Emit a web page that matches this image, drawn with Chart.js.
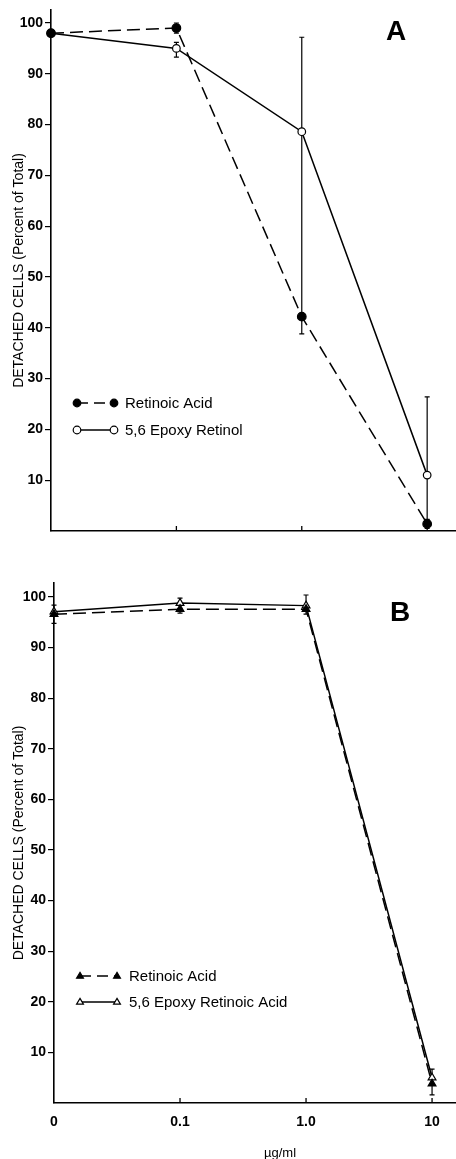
<!DOCTYPE html>
<html>
<head>
<meta charset="utf-8">
<script src="https://cdn.jsdelivr.net/npm/chart.js@4.4.1/dist/chart.umd.min.js"></script>
<style>
html, body { margin: 0; padding: 0; background: #fff; }
#wrap { position: relative; width: 456px; height: 1159px; overflow: hidden; background: #fff; }
canvas { position: absolute; left: 0; }
#cA { top: 0; }
#cB { top: 560px; }
.panel { position: absolute; font-family: 'Liberation Sans', Arial, sans-serif; font-weight: bold; font-size: 28px; line-height: 1; color: #000; }
#unit { position: absolute; left: 280px; top: 1152px; transform: translate(-50%, -50%); font-family: 'Liberation Sans', Arial, sans-serif; font-size: 13px; line-height: 1; color: #000; }
</style>
</head>
<body>
<div id="wrap">
  <canvas id="cA" width="456" height="545"></canvas>
  <canvas id="cB" width="456" height="599"></canvas>
  <div class="panel" style="left:386px; top:17px;">A</div>
  <div class="panel" style="left:390px; top:598px;">B</div>
  <div id="unit">µg/ml</div>
</div>
<script>
// ---- data ----
const xLabels = ['0', '0.1', '1.0', '10'];
const xIndex = [0, 1, 2, 3];
const yTitle = 'DETACHED CELLS (Percent of Total)';

const namesA = ['Retinoic Acid', '5,6 Epoxy Retinol'];
const retinoicA = [98.0, 99.0, 42.2, 1.4];
const epoxyRetinolA = [98.0, 95.0, 78.6, 11.0];
const retinoicAErr = [null, [98.0, 100.0], [38.8, 42.2], [0.5, 2.3]];
const epoxyRetinolAErr = [null, [93.3, 96.2], [42.2, 97.2], [1.4, 26.4]];

const namesB = ['Retinoic Acid', '5,6 Epoxy Retinoic Acid'];
const retinoicB = [96.6, 97.6, 97.6, 3.8];
const epoxyRetinoicB = [97.1, 98.8, 98.3, 5.0];
const retinoicBErr = [[94.8, 98.4], [96.8, 97.6], [96.6, 97.6], [1.6, 3.8]];
const epoxyRetinoicBErr = [null, [98.8, 99.8], [98.3, 100.4], [5.0, 6.7]];

// ---- helpers ----
const FONT = "'Liberation Sans', Arial, sans-serif";
function pts(vals) { return vals.map((v, i) => ({ x: xIndex[i], y: v })); }

function drawMarker(ctx, style, x, y, r, fill) {
  ctx.save();
  ctx.setLineDash([]);
  ctx.fillStyle = fill;
  ctx.strokeStyle = '#000';
  ctx.lineWidth = 1.2;
  ctx.beginPath();
  if (style === 'triangle') {
    ctx.moveTo(x, y - r);
    ctx.lineTo(x + r * 0.95, y + r * 0.6);
    ctx.lineTo(x - r * 0.95, y + r * 0.6);
    ctx.closePath();
  } else {
    ctx.arc(x, y, r, 0, Math.PI * 2);
  }
  ctx.fill();
  ctx.stroke();
  ctx.restore();
}

const errorBars = {
  id: 'errorBars',
  beforeDatasetsDraw(chart) {
    const { ctx, scales: { x, y } } = chart;
    ctx.save();
    ctx.strokeStyle = '#000';
    ctx.lineWidth = 1.2;
    chart.data.datasets.forEach(ds => {
      (ds.errors || []).forEach((e, i) => {
        if (!e) return;
        const px = x.getPixelForValue(ds.data[i].x);
        const y1 = y.getPixelForValue(e[0]);
        const y2 = y.getPixelForValue(e[1]);
        ctx.beginPath();
        ctx.moveTo(px, y1); ctx.lineTo(px, y2);
        ctx.moveTo(px - 2.5, y1); ctx.lineTo(px + 2.5, y1);
        ctx.moveTo(px - 2.5, y2); ctx.lineTo(px + 2.5, y2);
        ctx.stroke();
      });
    });
    // inward tick marks on the x axis
    ctx.lineWidth = 1.3;
    const yb = chart.chartArea.bottom;
    xIndex.slice(1).forEach(v => {
      const px = x.getPixelForValue(v);
      ctx.beginPath(); ctx.moveTo(px, yb); ctx.lineTo(px, yb - 5); ctx.stroke();
    });
    ctx.restore();
  }
};

const pairLegend = {
  id: 'pairLegend',
  afterDatasetsDraw(chart, args, o) {
    const ctx = chart.ctx;
    chart.data.datasets.forEach((ds, i) => {
      const yy = o.rows[i];
      ctx.save();
      ctx.strokeStyle = '#000';
      ctx.lineWidth = 1.4;
      ctx.setLineDash(ds.borderDash && ds.borderDash.length ? [11, 6] : []);
      ctx.beginPath(); ctx.moveTo(o.x0, yy); ctx.lineTo(o.x1, yy); ctx.stroke();
      ctx.restore();
      drawMarker(ctx, ds.pointStyle, o.x0, yy, o.r, ds.pointBackgroundColor);
      drawMarker(ctx, ds.pointStyle, o.x1, yy, o.r, ds.pointBackgroundColor);
      ctx.save();
      ctx.font = '15px ' + FONT;
      ctx.fillStyle = '#000';
      ctx.textBaseline = 'middle';
      ctx.fillText(ds.label, o.textX, yy + 1);
      ctx.restore();
    });
  }
};

function makeChart(id, cfg) {
  const showX = cfg.showXLabels;
  return new Chart(document.getElementById(id), {
    type: 'line',
    data: {
      datasets: [
        {
          label: cfg.names[0], data: pts(cfg.s1), errors: cfg.e1,
          borderColor: '#000', borderWidth: 1.5, borderDash: [13, 6],
          pointStyle: cfg.style, pointRadius: cfg.r1, pointBackgroundColor: '#000',
          pointBorderColor: '#000', pointBorderWidth: 1.2, tension: 0, clip: false
        },
        {
          label: cfg.names[1], data: pts(cfg.s2), errors: cfg.e2,
          borderColor: '#000', borderWidth: 1.5, borderDash: [],
          pointStyle: cfg.style, pointRadius: cfg.r2, pointBackgroundColor: '#fff',
          pointBorderColor: '#000', pointBorderWidth: 1.2, tension: 0, clip: false
        }
      ]
    },
    options: {
      responsive: false,
      animation: false,
      events: [],
      layout: { autoPadding: false, padding: { top: cfg.padTop, right: 0, bottom: 0, left: 0 } },
      plugins: {
        legend: { display: false },
        tooltip: { enabled: false },
        pairLegend: cfg.legend
      },
      scales: {
        x: {
          type: 'linear', min: 0, max: cfg.xMax,
          afterFit: s => { s.height = cfg.xHeight; s.paddingLeft = 0; s.paddingRight = 0; },
          grid: { display: false },
          border: { display: true, color: '#000', width: 1.6 },
          ticks: {
            display: showX, stepSize: 1, includeBounds: false, padding: 3,
            color: '#000', font: { family: FONT, size: 14, weight: 'bold' },
            maxRotation: 0, autoSkip: false,
            callback: v => { const i = xIndex.indexOf(v); return i >= 0 ? xLabels[i] : ''; }
          }
        },
        y: {
          type: 'linear', min: 0, max: cfg.yMax,
          afterFit: s => { s.width = cfg.yWidth; s.paddingTop = 0; s.paddingBottom = 0; },
          grid: {
            display: true, drawOnChartArea: false, drawTicks: true, tickLength: 6,
            color: c => (c.tick && c.tick.value === 0) ? 'rgba(0,0,0,0)' : '#000', lineWidth: 1.2
          },
          border: { display: true, color: '#000', width: 1.6 },
          title: {
            display: true, text: yTitle, color: '#000',
            font: { family: FONT, size: 14 }, padding: { top: 11, bottom: 0 }
          },
          ticks: {
            stepSize: 10, includeBounds: false, padding: 2, color: '#000',
            font: { family: FONT, size: 14, weight: 'bold' },
            callback: v => v === 0 ? '' : String(v)
          }
        }
      }
    },
    plugins: [errorBars, pairLegend]
  });
}

makeChart('cA', {
  names: namesA, s1: retinoicA, s2: epoxyRetinolA, e1: retinoicAErr, e2: epoxyRetinolAErr,
  style: 'circle', r1: 4.3, r2: 3.8, padTop: 10, xMax: 3.23, xHeight: 14, yMax: 102.56, yWidth: 51,
  showXLabels: false,
  legend: { x0: 77, x1: 114, textX: 125, rows: [403, 430], r: 3.8 }
});

makeChart('cB', {
  names: namesB, s1: retinoicB, s2: epoxyRetinoicB, e1: retinoicBErr, e2: epoxyRetinoicBErr,
  style: 'triangle', r1: 4.5, r2: 4.5, padTop: 23, xMax: 3.19, xHeight: 56, yMax: 102.77, yWidth: 54,
  showXLabels: true,
  legend: { x0: 80, x1: 117, textX: 129, rows: [416, 442], r: 3.6 }
});
</script>
</body>
</html>
